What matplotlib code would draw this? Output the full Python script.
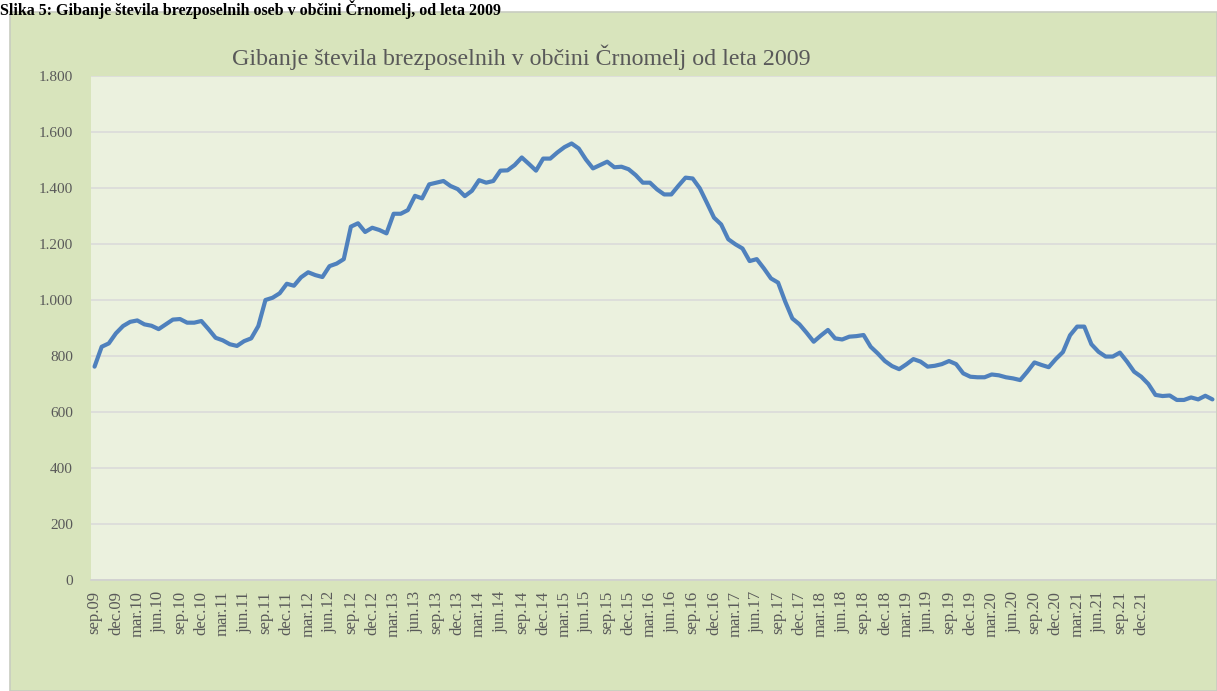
import matplotlib
matplotlib.use("Agg")
from matplotlib import pyplot as plt
from matplotlib.patches import Rectangle
from matplotlib.ticker import FuncFormatter, MultipleLocator

# monthly number of unemployed, sep.09 .. oct.22
values = [762, 833, 845, 881, 907, 922, 927, 913, 908, 896,
          913, 930, 932, 919, 919, 925, 896, 865, 856, 842,
          836, 853, 863, 907, 1000, 1008, 1024, 1058, 1051, 1081,
          1099, 1089, 1082, 1121, 1130, 1146, 1262, 1274, 1243, 1258,
          1250, 1238, 1308, 1308, 1321, 1372, 1363, 1413, 1419, 1425,
          1407, 1396, 1371, 1390, 1428, 1419, 1425, 1462, 1463, 1482,
          1509, 1486, 1462, 1505, 1505, 1527, 1546, 1559, 1541, 1502,
          1470, 1482, 1494, 1474, 1476, 1467, 1446, 1419, 1419, 1395,
          1377, 1377, 1408, 1437, 1434, 1399, 1347, 1294, 1270, 1217,
          1199, 1184, 1139, 1146, 1113, 1077, 1062, 994, 934, 913,
          883, 851, 873, 893, 863, 859, 869, 871, 875, 833,
          809, 782, 764, 753, 770, 789, 780, 762, 765, 771,
          782, 771, 738, 726, 724, 724, 734, 731, 724, 720,
          714, 744, 777, 768, 760, 789, 814, 874, 905, 905,
          842, 815, 798, 798, 812, 780, 744, 726, 700, 661,
          657, 659, 643, 643, 652, 645, 658, 645]

months = ["jan", "feb", "mar", "apr", "maj", "jun",
          "jul", "avg", "sep", "okt", "nov", "dec"]
# only every third month is labelled, up to dec.21
tick_pos = list(range(0, 148, 3))
tick_labels = []
for i in tick_pos:
    m = (8 + i) % 12
    y = 9 + (8 + i) // 12
    tick_labels.append(f"{months[m]}.{y:02d}")

title = "Gibanje števila brezposelnih v občini Črnomelj od leta 2009"
caption = "Slika 5: Gibanje števila brezposelnih oseb v občini Črnomelj, od leta 2009"

W, H = 1217, 691
fig = plt.figure(figsize=(W / 100, H / 100), dpi=100)
fig.patch.set_facecolor("white")

# outer chart area
fig.patches.append(Rectangle((10 / W, 0), 1 - 10 / W, (H - 12) / H,
                             transform=fig.transFigure, facecolor="#D8E4BC",
                             edgecolor="#C8CCC0", linewidth=1.2, zorder=-5))

serif = ["Liberation Serif", "DejaVu Serif"]
fig.text(0.0, 1.0, caption, ha="left", va="top", fontsize=11.5,
         fontweight="bold", family=serif, color="black", zorder=5)

ax = fig.add_axes([91 / W, 111 / H, 1125 / W, 504 / H])
ax.set_zorder(2)
ax.set_facecolor("#EBF1DE")

ax.plot(range(len(values)), values, color="#4F81BD", linewidth=3.0,
        solid_joinstyle="round", solid_capstyle="round", zorder=3)

ax.set_xlim(-0.5, len(values) - 0.5)
ax.set_ylim(0, 1800)
ax.yaxis.set_major_locator(MultipleLocator(200))
ax.yaxis.set_major_formatter(FuncFormatter(lambda v, p: f"{int(v):,}".replace(",", ".")))
ax.grid(axis="y", color="#D9D9D9", linewidth=1.1)
ax.set_axisbelow(True)

ax.set_xticks(tick_pos)
ax.set_xticklabels(tick_labels, rotation=90, family=serif, fontsize=12, color="#595959")
for lab in ax.get_yticklabels():
    lab.set_family(serif)
ax.tick_params(axis="y", length=0, pad=13, labelsize=11, labelcolor="#595959")
ax.tick_params(axis="x", length=0, pad=8)

for s in ["top", "left", "right"]:
    ax.spines[s].set_visible(False)
ax.spines["bottom"].set_color("#D0D0D0")
ax.spines["bottom"].set_linewidth(1.2)

fig.text(521 / W, 1 - 57 / H, title, ha="center", va="center", fontsize=17.3,
         family=serif, color="#595959", zorder=5)

fig.savefig("out.png", dpi=100)
